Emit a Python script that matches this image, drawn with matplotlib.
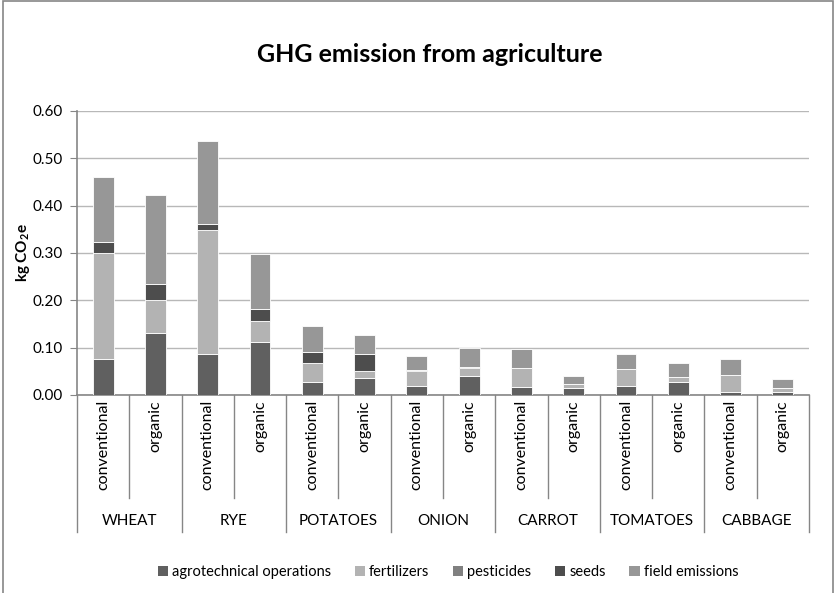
import matplotlib.pyplot as plt
import numpy as np
from matplotlib.patches import Rectangle, Patch

plt.rcParams['font.family'] = ['Lato', 'DejaVu Sans']
plt.rcParams['mathtext.fontset'] = 'custom'
plt.rcParams['mathtext.rm'] = 'Lato'
plt.rcParams['mathtext.bf'] = 'Lato:bold'

crops = ["WHEAT", "RYE", "POTATOES", "ONION", "CARROT", "TOMATOES", "CABBAGE"]
systems = ["conventional", "organic"]

# per-segment values, conventional/organic alternating for each crop
agro = [0.077, 0.131, 0.086, 0.112, 0.027, 0.035, 0.020, 0.041, 0.016, 0.014, 0.019, 0.027, 0.006, 0.006]
fert = [0.223, 0.070, 0.263, 0.044, 0.040, 0.016, 0.031, 0.017, 0.042, 0.009, 0.035, 0.012, 0.036, 0.009]
pest = [0.0] * 14
seeds = [0.023, 0.034, 0.012, 0.026, 0.024, 0.036, 0.001, 0.001, 0.000, 0.000, 0.000, 0.000, 0.000, 0.000]
field = [0.138, 0.188, 0.176, 0.115, 0.054, 0.039, 0.030, 0.041, 0.040, 0.018, 0.032, 0.028, 0.035, 0.018]

series = [
    ("agrotechnical operations", agro, "#606060"),
    ("fertilizers", fert, "#b3b3b3"),
    ("pesticides", pest, "#808080"),
    ("seeds", seeds, "#4d4d4d"),
    ("field emissions", field, "#979797"),
]

W, H = 836, 593
fig = plt.figure(figsize=(W / 100, H / 100), dpi=100)
ax = fig.add_axes([77 / W, 1 - 395 / H, (809 - 77) / W, (395 - 111) / H])

x = np.arange(len(crops) * 2)
bottom = np.zeros(len(x))
for name, vals, col in series:
    ax.bar(x, vals, width=0.4, bottom=bottom, color=col, edgecolor="white",
           linewidth=0.6, zorder=3)
    bottom += np.array(vals)

ax.set_xlim(-0.5, len(x) - 0.5)
ax.set_ylim(0, 0.6)
ax.set_yticks(np.arange(0, 0.61, 0.1))
ax.set_yticklabels([f"{v:.2f}" for v in np.arange(0, 0.61, 0.1)], fontsize=11)
ax.yaxis.grid(True, color="#b8b8b8", linewidth=1, zorder=0)
ax.tick_params(axis="y", length=5, color="#868686", pad=5)
ax.set_xticks([])
for s in ["top", "right"]:
    ax.spines[s].set_visible(False)
for s in ["left", "bottom"]:
    ax.spines[s].set_color("#868686")
    ax.spines[s].set_linewidth(1.2)

ax.set_ylabel(r"kg CO$_\mathbf{2}$e", fontsize=11, fontweight="bold")
ax.yaxis.set_label_coords(-0.062, 0.5)

# hierarchical category axis
tr = ax.get_xaxis_transform()
ax_h = 395 - 111
sub_bot = -(498 - 395) / ax_h
grp_bot = -(532 - 395) / ax_h
for i, xi in enumerate(x):
    ax.text(xi, -(400 - 395) / ax_h, systems[i % 2], transform=tr, rotation=90,
            ha="center", va="top", fontsize=11.5)
    if i % 2 == 1:
        ax.plot([xi - 0.5, xi - 0.5], [0, sub_bot], transform=tr, color="#868686",
                lw=1, clip_on=False)
for g in range(len(crops) + 1):
    xs = g * 2 - 0.5
    ax.plot([xs, xs], [0, grp_bot], transform=tr, color="#868686", lw=1, clip_on=False)
    if g < len(crops):
        ax.text(g * 2 + 0.5, -(521 - 395) / ax_h, crops[g], transform=tr,
                ha="center", va="center", fontsize=11)

fig.text(430 / W, 1 - 55 / H, "GHG emission from agriculture", ha="center",
         va="center", fontsize=18, fontweight="bold")

handles = [Patch(facecolor=c, label=n) for n, _, c in series]
fig.legend(handles=handles, loc="center", bbox_to_anchor=(448 / W, 1 - 572 / H),
           ncol=5, frameon=False, fontsize=10.5, handlelength=0.7, handleheight=0.7,
           handletextpad=0.3, columnspacing=1.6)

fig.patches.append(Rectangle((3 / W, -0.02), 830 / W, 1 - 1 / H + 0.02,
                             transform=fig.transFigure, fill=False,
                             edgecolor="#868686", linewidth=1.2))

fig.savefig("out.png", dpi=100)
